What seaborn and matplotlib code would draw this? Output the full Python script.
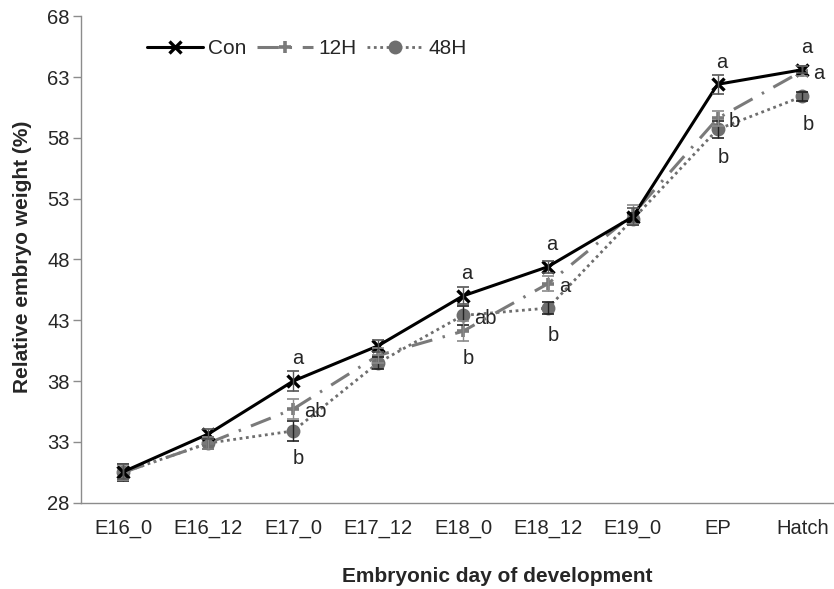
import numpy as np
import pandas as pd
import matplotlib
matplotlib.use("Agg")
import matplotlib.pyplot as plt
import seaborn as sns

stages = ["E16_0", "E16_12", "E17_0", "E17_12", "E18_0", "E18_12", "E19_0", "EP", "Hatch"]

con_mean = [30.55, 33.65, 38.0, 40.9, 45.0, 47.4, 51.5, 62.4, 63.6]
con_se = [0.6, 0.4, 0.8, 0.5, 0.7, 0.5, 0.7, 0.8, 0.3]
h12_mean = [30.5, 32.9, 35.7, 40.1, 42.1, 46.0, 51.7, 59.6, 63.5]
h12_se = [0.6, 0.5, 0.8, 0.6, 0.8, 0.6, 0.8, 0.6, 0.4]
h48_mean = [30.5, 32.9, 33.9, 39.5, 43.4, 44.0, 51.3, 58.7, 61.4]
h48_se = [0.7, 0.5, 0.8, 0.5, 0.8, 0.5, 0.5, 0.7, 0.4]

con_letters = ["", "", "a", "", "a", "a", "", "a", "a"]
h12_letters = ["", "", "ab", "", "b", "a", "", "b", "a"]
h48_letters = ["", "", "b", "", "ab", "b", "", "b", "b"]

groups = ["Con", "12H", "48H"]
means = [con_mean, h12_mean, h48_mean]
ses = [con_se, h12_se, h48_se]
letters = [con_letters, h12_letters, h48_letters]

df = pd.DataFrame({
    "stage": stages * 3,
    "weight": con_mean + h12_mean + h48_mean,
    "group": [g for g in groups for _ in stages],
})

sns.set_style("white")
plt.rcParams["font.family"] = ["Liberation Sans", "DejaVu Sans"]

fig = plt.figure(figsize=(8.34, 5.89), dpi=100)
ax = fig.add_axes([0.0971, 0.1465, 0.916, 0.826])

styles = {
    "Con": dict(color="black", marker="x", markersize=9, markeredgewidth=2.4,
                markeredgecolor="black", linewidth=2.2, linestyle="-", zorder=5),
    "12H": dict(color="#7a7a7a", marker="+", markersize=9, markeredgewidth=2.6,
                markeredgecolor="#7a7a7a", linewidth=2.2,
                linestyle=(0, (7, 3.5, 0.8, 3.5)), zorder=4),
    "48H": dict(color="#6e6e6e", marker="o", markersize=10, markeredgewidth=0,
                markeredgecolor="#6e6e6e", linewidth=2.0,
                linestyle=(0, (1, 1.3)), zorder=3),
}
err_colors = {"Con": "#555555", "12H": "#8a8a8a", "48H": "#222222"}

x = np.arange(len(stages))
for g, m, s in zip(groups, means, ses):
    sub = df[df["group"] == g]
    sns.lineplot(data=sub, x="stage", y="weight", ax=ax, label=g, sort=False, **styles[g])
    ax.errorbar(x, m, yerr=s, fmt="none", ecolor=err_colors[g], elinewidth=1.0,
                capsize=4, capthick=1.2, zorder=styles[g]["zorder"] + 1)

# significance letters: highest above, middle to the right, lowest below
arr = np.array(means)
for i in range(len(stages)):
    order = np.argsort(-arr[:, i])
    for rank, gi in enumerate(order):
        txt = letters[gi][i]
        if not txt:
            continue
        v = arr[gi, i]
        if rank == 0:
            ax.annotate(txt, (i, v), xytext=(3, 16), textcoords="offset points",
                        ha="center", va="center", fontsize=14.5)
        elif rank == 1:
            ax.annotate(txt, (i, v), xytext=(8, -2), textcoords="offset points",
                        ha="left", va="center", fontsize=14.5)
        else:
            ax.annotate(txt, (i, v), xytext=(4, -20), textcoords="offset points",
                        ha="center", va="center", fontsize=14.5)

ax.set_xlim(-0.5, len(stages) - 0.5)
ax.set_ylim(28, 68)
ax.set_yticks(np.arange(28, 69, 5))
ax.set_xticks(x)
ax.set_xticklabels(stages)
ax.set_xticks(np.arange(-0.5, len(stages), 1), minor=True)
ax.tick_params(axis="x", which="major", length=0, pad=12, labelsize=14.5)
ax.tick_params(axis="x", which="minor", length=5, width=1, color="#8c8c8c", direction="out")
ax.tick_params(axis="y", length=6, width=1, color="#8c8c8c", direction="out", pad=2,
               labelsize=14.5, left=True)

for side in ["top", "right"]:
    ax.spines[side].set_visible(False)
for side in ["left", "bottom"]:
    ax.spines[side].set_color("#8c8c8c")
    ax.spines[side].set_linewidth(1.0)

ax.set_xlabel("Embryonic day of development", fontsize=15, fontweight="bold")
ax.set_ylabel("Relative embryo weight (%)", fontsize=15, fontweight="bold")
ax.xaxis.set_label_coords(0.545, -0.133)
ax.yaxis.set_label_coords(-0.064, 0.505)

ax.legend(loc="upper left", bbox_to_anchor=(0.075, 0.97), ncol=3, frameon=False,
          fontsize=15, handlelength=2.7, handletextpad=0.25, columnspacing=0.5,
          borderaxespad=0)

fig.savefig("out.png", dpi=100)
